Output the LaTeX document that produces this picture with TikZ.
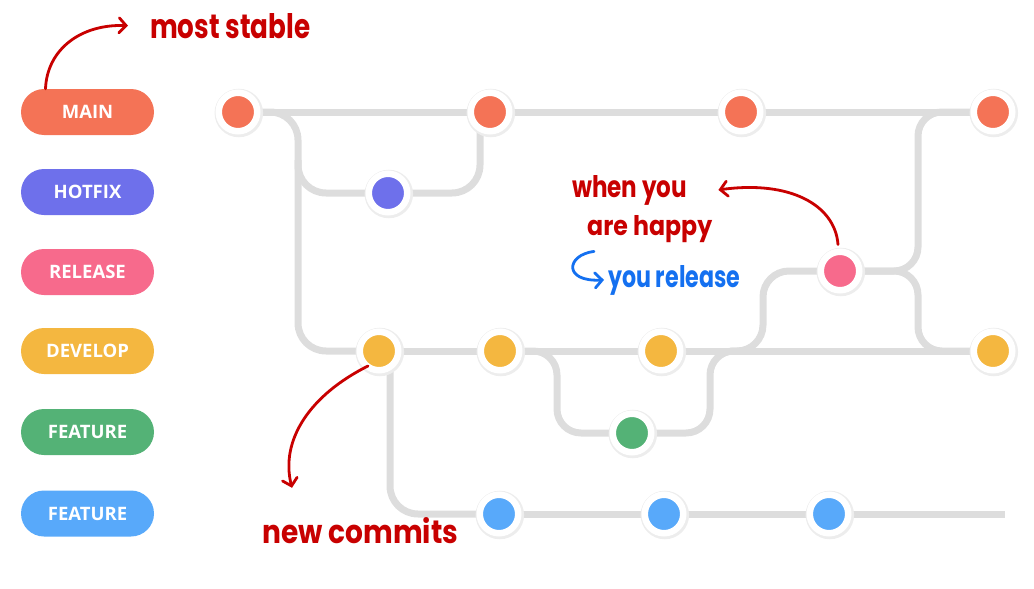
\documentclass[tikz,border=0pt]{standalone}
\usepackage{fontspec}
\setmainfont{Open Sans}
\newfontfamily\hand{Poppins}
\usetikzlibrary{arrows.meta}
\pgfdeclarelayer{background}
\pgfsetlayers{background,main}
\definecolor{cmain}{HTML}{F47356}
\definecolor{chot}{HTML}{6E70EB}
\definecolor{crel}{HTML}{F76A8C}
\definecolor{cdev}{HTML}{F4B740}
\definecolor{cgreen}{HTML}{54B276}
\definecolor{cblue}{HTML}{58A9FA}
\definecolor{linegray}{HTML}{DDDDDD}
\definecolor{penred}{HTML}{C80000}
\definecolor{penblue}{HTML}{1470F0}
\tikzset{
  pill/.style={rectangle, rounded corners=23pt, fill=#1, minimum width=133pt, minimum height=46pt,
    text=white, font=\bfseries\fontsize{18.5}{18.5}\selectfont, inner sep=0pt},
  commit/.style={circle, fill=#1, draw=white, line width=6.5pt, minimum size=38.5pt, inner sep=0pt,
    preaction={draw=black!7, fill=black!7, line width=10pt, transform canvas={xshift=0.8pt,yshift=-1pt}}},
  branch/.style={draw=linegray, line width=7pt, rounded corners=28pt},
  handtext/.style={anchor=base west, inner sep=0pt, text=#1},
  pen/.style={draw=#1, line width=2.8pt, line cap=round,
    -{Straight Barb[length=7pt,width=15pt,line cap=round]}},
}
\begin{document}
\begin{tikzpicture}[x=1pt,y=-1pt]
\useasboundingbox (0,0) rectangle (1034,589);
% branch labels
\node[pill=cmain]  (lmain) at (87.5,112) {MAIN};
\node[pill=chot]   (lhot)  at (87.5,192) {HOTFIX};
\node[pill=crel]   (lrel)  at (87.5,272) {RELEASE};
\node[pill=cdev]   (ldev)  at (87.5,351) {DEVELOP};
\node[pill=cgreen] (lfeat) at (87.5,432) {FEATURE};
\node[pill=cblue]  (lfeatb) at (87.5,513.5) {FEATURE};
% commits
\node[commit=cmain] (m1) at (238,112) {};
\node[commit=cmain] (m2) at (490,112) {};
\node[commit=cmain] (m3) at (741,112) {};
\node[commit=cmain] (m4) at (993,112) {};
\node[commit=chot] (h1) at (388,193) {};
\node[commit=crel] (r1) at (840,271) {};
\node[commit=cdev] (d1) at (379,351) {};
\node[commit=cdev] (d2) at (500,351) {};
\node[commit=cdev] (d3) at (661,351) {};
\node[commit=cdev] (d4) at (993,351) {};
\node[commit=cgreen] (g1) at (632,433) {};
\node[commit=cblue] (b1) at (499,514) {};
\node[commit=cblue] (b2) at (664,514) {};
\node[commit=cblue] (b3) at (829,514) {};
\coordinate (bend) at (1005,514);
% branch lines
\begin{pgfonlayer}{background}
\draw[branch] (m1.center) -- (m4.center);
\draw[branch] (m1.center) -- (298,112) |- (d1.center);
\draw[branch] (298,160) |- (h1.center) -| ([xshift=-10pt]m2.center);
\draw[branch] (d1.center) -- (d4.center);
\draw[branch] ([xshift=11pt]d1.center) |- (b1.center);
\draw[branch] (b1.center) -- (bend);
\draw[branch,rounded corners=24pt] (525,351) -- (557,351) |- (g1.center) -| (710,351) -- (745,351);
\draw[branch,rounded corners=26pt] (730,351) -- (763,351) |- (r1.center);
\draw[branch,rounded corners=24pt] (r1.center) -- (918,271) |- (m4.center);
\draw[branch,rounded corners=24pt] (r1.center) -- (918,271) |- (d4.center);
\end{pgfonlayer}
% handwritten notes
\node[handtext=penred] (tstable) at (150,38) {\resizebox{160pt}{25pt}{\hand\bfseries most stable}};
\node[handtext=penred] (twhen) at (572,197) {\resizebox{115pt}{22pt}{\hand\bfseries when you}};
\node[handtext=penred] (thappy) at (587,235) {\resizebox{125pt}{20pt}{\hand\bfseries are happy}};
\node[handtext=penblue] (trel) at (608,287) {\resizebox{132pt}{22pt}{\hand\bfseries you release}};
\node[handtext=penred] (tnew) at (262,543) {\resizebox{196pt}{26pt}{\hand\bfseries new commits}};
% arrows
\draw[pen=penred] ([xshift=-42pt]lmain.north) .. controls (47,50) and (80,24) .. ([xshift=-22pt]tstable.west);
\draw[pen=penred] ([xshift=-2pt,yshift=4pt]r1.north) .. controls (835,205) and (790,180) .. ([xshift=31pt]twhen.east);
\draw[pen=penred] ([xshift=-11pt,yshift=-15pt]d1.center) .. controls (310,395) and (280,440) .. ([xshift=30pt,yshift=29pt]tnew.north west);
\draw[pen=penblue] ([xshift=7pt,yshift=-9pt]thappy.south west) .. controls (566,255) and (563,282) .. ([xshift=-4pt]trel.west);
\end{tikzpicture}
\end{document}
